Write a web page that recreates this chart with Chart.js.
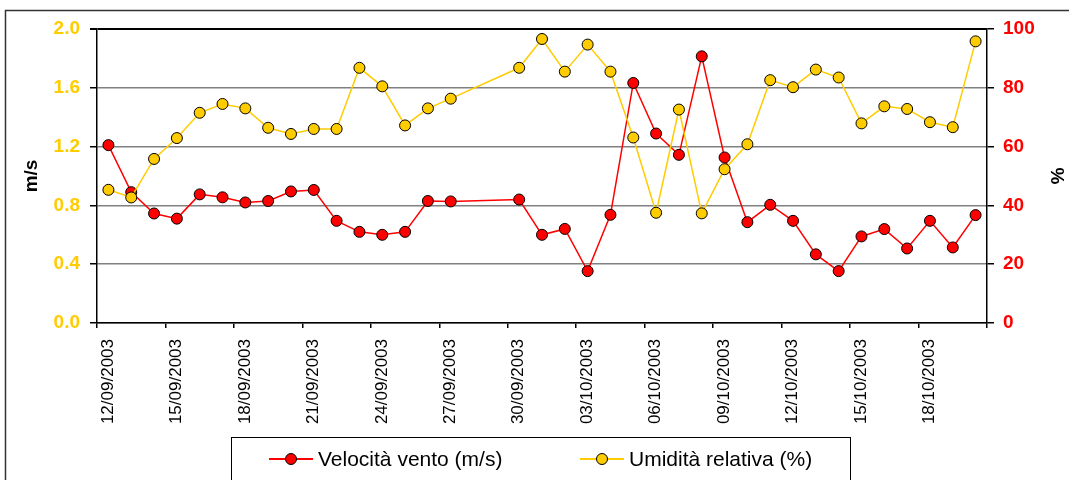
<!DOCTYPE html>
<html>
<head>
<meta charset="utf-8">
<script src="https://cdn.jsdelivr.net/npm/chart.js@4.4.0/dist/chart.umd.min.js"></script>
<style>
  body { margin: 0; background: #fff; }
</style>
</head>
<body>
<canvas id="chart" width="1069" height="480"></canvas>
<script>
const dates = [
  '12/09/2003', '13/09/2003', '14/09/2003', '15/09/2003', '16/09/2003', '17/09/2003',
  '18/09/2003', '19/09/2003', '20/09/2003', '21/09/2003', '22/09/2003', '23/09/2003',
  '24/09/2003', '25/09/2003', '26/09/2003', '27/09/2003', '30/09/2003', '01/10/2003',
  '02/10/2003', '03/10/2003', '04/10/2003', '05/10/2003', '06/10/2003', '07/10/2003',
  '08/10/2003', '09/10/2003', '10/10/2003', '11/10/2003', '12/10/2003', '13/10/2003',
  '14/10/2003', '15/10/2003', '16/10/2003', '17/10/2003', '18/10/2003', '19/10/2003',
  '20/10/2003'
];
// velocita' vento, m/s
const wind = [
  1.21, 0.89, 0.745, 0.71, 0.875, 0.855, 0.82, 0.83, 0.895, 0.905, 0.695, 0.62,
  0.60, 0.62, 0.83, 0.827, 0.84, 0.60, 0.64, 0.353, 0.736, 1.633, 1.289, 1.144,
  1.814, 1.126, 0.686, 0.804, 0.695, 0.467, 0.353, 0.589, 0.639, 0.507, 0.695, 0.514,
  0.734
];
// umidita' relativa, %
const humidity = [
  45.3, 42.7, 55.8, 62.9, 71.5, 74.5, 73.0, 66.4, 64.3, 66.0, 66.0, 86.8,
  80.5, 67.2, 73.0, 76.3, 86.8, 96.6, 85.5, 94.7, 85.5, 63.1, 37.5, 72.6,
  37.3, 52.3, 60.8, 82.6, 80.2, 86.2, 83.5, 67.9, 73.7, 72.8, 68.3, 66.6,
  95.8
];
const windLabel = 'Velocità vento (m/s)';
const humidityLabel = 'Umidità relativa (%)';
const windTitle = 'm/s';
const humidityTitle = '%';

const RED = '#FF0000';
const GOLD = '#FFCC00';
const FONT = "'Liberation Sans', Arial, sans-serif";
const DAY = 86400000;

function parseDate(s) {
  const [d, m, y] = s.split('/').map(Number);
  return Date.UTC(y, m - 1, d);
}
const start = parseDate(dates[0]);
const pad = n => String(n).padStart(2, '0');
function fmt(day) {
  const t = new Date(start + day * DAY);
  return pad(t.getUTCDate()) + '/' + pad(t.getUTCMonth() + 1) + '/' + t.getUTCFullYear();
}
// points sit in the middle of their day, like Excel's date axis
const dayX = dates.map(d => (parseDate(d) - start) / DAY + 0.5);
const lastDay = Math.ceil(dayX[dayX.length - 1]);

// outer chart-area frame (only top and left are on screen)
const framePlugin = {
  id: 'frame',
  beforeDraw(chart) {
    const ctx = chart.ctx;
    ctx.save();
    ctx.fillStyle = '#fff';
    ctx.fillRect(0, 0, chart.width, chart.height);
    ctx.strokeStyle = '#333';
    ctx.lineWidth = 1.5;
    ctx.beginPath();
    ctx.moveTo(5.5, chart.height);
    ctx.lineTo(5.5, 10.5);
    ctx.lineTo(chart.width, 10.5);
    ctx.stroke();
    ctx.restore();
  }
};

// boxed legend with line + marker samples
const legendPlugin = {
  id: 'boxLegend',
  afterDraw(chart) {
    const ctx = chart.ctx;
    ctx.save();
    ctx.strokeStyle = '#000';
    ctx.lineWidth = 1;
    ctx.strokeRect(231.5, 437.5, 619, 60);
    const y = 459;
    const xs = [269, 580];
    ctx.font = '21px ' + FONT;
    ctx.textBaseline = 'middle';
    ctx.textAlign = 'left';
    chart.data.datasets.forEach((ds, i) => {
      const x = xs[i];
      ctx.strokeStyle = ds.borderColor;
      ctx.lineWidth = 2;
      ctx.beginPath();
      ctx.moveTo(x, y);
      ctx.lineTo(x + 44, y);
      ctx.stroke();
      ctx.beginPath();
      ctx.arc(x + 22, y, 5.5, 0, Math.PI * 2);
      ctx.fillStyle = ds.pointBackgroundColor;
      ctx.fill();
      ctx.strokeStyle = '#000';
      ctx.lineWidth = 1;
      ctx.stroke();
      ctx.fillStyle = '#000';
      ctx.fillText(ds.label, x + 49, y + 1);
    });
    ctx.restore();
  }
};

new Chart(document.getElementById('chart'), {
  type: 'line',
  data: {
    datasets: [
      {
        label: windLabel,
        data: wind.map((v, i) => ({ x: dayX[i], y: v })),
        yAxisID: 'y',
        borderColor: RED,
        borderWidth: 1.5,
        pointBackgroundColor: RED,
        pointBorderColor: '#000',
        pointBorderWidth: 1,
        pointRadius: 5.5,
        tension: 0,
        order: 2
      },
      {
        label: humidityLabel,
        data: humidity.map((v, i) => ({ x: dayX[i], y: v })),
        yAxisID: 'y1',
        borderColor: GOLD,
        borderWidth: 1.5,
        pointBackgroundColor: GOLD,
        pointBorderColor: '#000',
        pointBorderWidth: 1,
        pointRadius: 5.5,
        tension: 0,
        order: 1
      }
    ]
  },
  options: {
    responsive: false,
    animation: false,
    events: [],
    layout: { padding: { top: 29, left: 0, right: 0, bottom: 0 } },
    plugins: {
      legend: { display: false },
      tooltip: { enabled: false }
    },
    scales: {
      x: {
        type: 'linear',
        position: 'bottom',
        min: 0,
        max: lastDay,
        afterFit: s => { s.height = 157; },
        border: { color: '#000', width: 1.5 },
        grid: {
          drawOnChartArea: false,
          drawTicks: true,
          tickLength: 5,
          tickColor: '#000',
          lineWidth: 1.5
        },
        ticks: {
          stepSize: 3,
          autoSkip: false,
          minRotation: 90,
          maxRotation: 90,
          padding: 11,
          labelOffset: 11,
          color: '#000',
          font: { family: FONT, size: 17 },
          callback: v => (v >= lastDay ? '' : fmt(v))
        }
      },
      y: {
        position: 'left',
        min: 0,
        max: 2,
        afterFit: s => { s.width = 97; },
        border: { color: '#000', width: 1.5 },
        grid: {
          color: c => (c.tick && c.tick.value === 2 ? '#000' : '#808080'),
          lineWidth: c => (c.tick && c.tick.value === 2 ? 2 : 1.5),
          tickColor: '#000',
          tickLength: 7
        },
        ticks: {
          stepSize: 0.4,
          padding: 10,
          color: GOLD,
          font: { family: FONT, size: 19, weight: 'bold' },
          callback: v => v.toFixed(1)
        },
        title: {
          display: true,
          text: windTitle,
          color: '#000',
          padding: { top: 20, bottom: 0 },
          font: { family: FONT, size: 19, weight: 'bold' }
        }
      },
      y1: {
        position: 'right',
        min: 0,
        max: 100,
        afterFit: s => { s.width = 82; },
        border: { color: '#000', width: 1.5 },
        grid: {
          drawOnChartArea: false,
          tickColor: '#000',
          tickLength: 7,
          lineWidth: 1.5
        },
        ticks: {
          stepSize: 20,
          padding: 9,
          color: RED,
          font: { family: FONT, size: 19, weight: 'bold' }
        },
        title: {
          display: true,
          text: humidityTitle,
          color: '#000',
          padding: { top: 1, bottom: 0 },
          font: { family: FONT, size: 19, weight: 'bold' }
        }
      }
    }
  },
  plugins: [framePlugin, legendPlugin]
});
</script>
</body>
</html>
